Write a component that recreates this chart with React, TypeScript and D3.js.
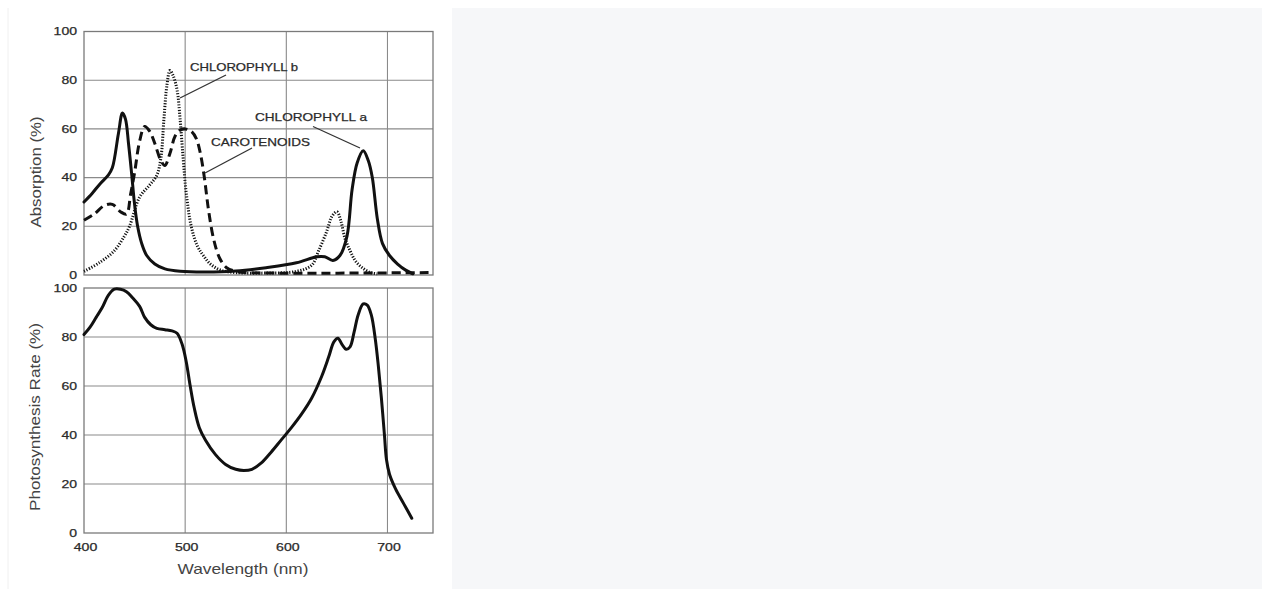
import * as d3 from "d3";

// absorption spectra (top panel)
const chlANm = [400, 408, 416, 424, 428, 434, 438, 441, 444, 447, 450, 453, 457, 462, 470, 480, 495, 520, 550, 580, 610, 630, 638, 646, 653, 660, 665, 670, 676, 681, 685, 690, 695, 702, 710, 718, 725];
const chlA = [30, 33.5, 37.5, 41, 44, 58, 66.5, 64, 54, 42, 29, 20, 13, 8, 4.5, 2.5, 1.5, 1.2, 1.6, 3, 5, 7.5, 7.5, 6, 8, 16, 35, 46, 51, 47, 40, 23, 13, 8, 4.5, 2, 0.5];

const chlBNm = [400, 415, 430, 440, 445, 455, 465, 472, 476, 479, 482, 485, 488, 492, 495, 498, 501, 506, 512, 518, 525, 535, 550, 580, 610, 625, 632, 640, 645, 650, 654, 658, 663, 668, 675, 683, 690];
const chlB = [1.5, 5, 10, 16, 20, 32, 37, 41, 48, 64, 78, 84, 82, 76, 64, 48, 34, 20, 12, 8, 4.5, 2, 1, 0.8, 1.5, 4, 10, 18, 24, 26, 22, 15, 10, 6, 3, 1, 0.5];

const carNm = [400, 410, 420, 428, 436, 442, 446, 450, 455, 460, 465, 470, 476, 480, 485, 490, 495, 500, 506, 511, 515, 519, 523, 528, 534, 541, 550, 560, 745];
const car = [22.5, 25, 28.5, 29, 26, 25, 33, 42, 55, 61, 59, 54, 47, 45, 50, 57, 59.5, 60, 59, 56, 50, 40, 27, 15, 7, 3, 1.5, 1, 1];

// action spectrum (bottom panel)
const photoNm = [400, 406, 412, 418, 424, 430, 436, 442, 448, 455, 460, 466, 472, 480, 487, 492, 497, 501, 505, 509, 514, 520, 530, 540, 550, 558, 566, 575, 585, 595, 605, 615, 625, 635, 642, 647, 651, 655, 659, 663, 667, 671, 676, 680, 684, 688, 691, 694, 697, 699, 702, 708, 716, 724];
const photo = [81, 84, 88, 92, 97, 99.5, 99.5, 98.5, 96, 92.5, 88, 85, 83.5, 83, 82.5, 81.5, 77, 70, 60, 51, 43, 38, 32, 28, 26, 25.5, 26, 28.5, 33, 38, 43, 48.5, 55, 64, 72, 78, 79.5, 77, 75, 76, 82, 89, 93.5, 93, 89, 79, 68, 55, 40, 30, 24, 18, 12, 6];

const xTicks = [400, 500, 600, 700];
const yTicks = [0, 20, 40, 60, 80, 100];

const W = 1266;
const H = 589;

const x = d3.scaleLinear().domain([400, 745]).range([84, 433]);
const yTop = d3.scaleLinear().domain([0, 100]).range([275, 31.5]);
const yBot = d3.scaleLinear().domain([0, 100]).range([533, 288]);

const zip = (a: number[], b: number[]) => a.map((d, i) => [d, b[i]] as [number, number]);

const font = "'Liberation Sans', Arial, sans-serif";

function Panel({ y, series }: { y: d3.ScaleLinear<number, number>; series: { pts: [number, number][]; dash: string | undefined; cap: string }[] }) {
  const line = d3
    .line<[number, number]>()
    .x((d) => x(d[0]))
    .y((d) => y(d[1]))
    .curve(d3.curveCatmullRom.alpha(0.5));
  const [x0, x1] = x.range();
  const [y0, y1] = y.range();
  return (
    <g>
      {yTicks.slice(1, -1).map((t) => (
        <line key={"h" + t} x1={x0} x2={x1} y1={y(t)} y2={y(t)} stroke="#8a8a8a" strokeWidth={1.1} />
      ))}
      {xTicks.slice(1).map((t) => (
        <line key={"v" + t} x1={x(t)} x2={x(t)} y1={y0} y2={y1} stroke="#8a8a8a" strokeWidth={1.1} />
      ))}
      <rect x={x0} y={y1} width={x1 - x0} height={y0 - y1} fill="none" stroke="#7a7a7a" strokeWidth={1.3} />
      {yTicks.map((t) => (
        <text
          key={"yl" + t}
          x={77}
          y={y(t)}
          dy="0.35em"
          textAnchor="end"
          fontFamily={font}
          fontSize={11}
          fill="#2a2a2a"
          stroke="#2a2a2a"
          strokeWidth={0.25}
          textLength={String(t).length * 7.8}
          lengthAdjust="spacingAndGlyphs"
        >
          {t}
        </text>
      ))}
      {series.map((s, i) => (
        <path
          key={i}
          d={line(s.pts) || ""}
          fill="none"
          stroke="#111"
          strokeWidth={3}
          strokeDasharray={s.dash}
          strokeLinecap={s.cap as any}
          strokeLinejoin="round"
        />
      ))}
    </g>
  );
}

export default function App() {
  return (
    <svg width={W} height={H} style={{ position: "absolute", left: 0, top: 0 }}>
      <rect width={W} height={H} fill="#fff" />
      <rect x={452} y={8} width={810} height={H - 8} fill="#f6f7f9" />
      <line x1={8} x2={8} y1={8} y2={H} stroke="#f0f0f0" />

      <Panel
        y={yTop}
        series={[
          { pts: zip(carNm, car), dash: "9,5", cap: "butt" },
          { pts: zip(chlBNm, chlB), dash: "1.2,1.6", cap: "butt" },
          { pts: zip(chlANm, chlA), dash: undefined, cap: "round" },
        ]}
      />
      <Panel y={yBot} series={[{ pts: zip(photoNm, photo), dash: undefined, cap: "round" }]} />

      {xTicks.map((t) => (
        <text
          key={"xl" + t}
          x={x(t) + 1.5}
          y={547}
          dy="0.35em"
          textAnchor="middle"
          fontFamily={font}
          fontSize={11}
          fill="#2a2a2a"
          stroke="#2a2a2a"
          strokeWidth={0.25}
          textLength={23.5}
          lengthAdjust="spacingAndGlyphs"
        >
          {t}
        </text>
      ))}

      {/* annotations */}
      <g fontFamily={font} fontSize={11} fill="#2a2a2a" stroke="#2a2a2a" strokeWidth={0.25}>
        <text x={190} y={71} textLength={108} lengthAdjust="spacingAndGlyphs">CHLOROPHYLL b</text>
        <text x={255} y={121} textLength={112} lengthAdjust="spacingAndGlyphs">CHLOROPHYLL a</text>
        <text x={211} y={146} textLength={99} lengthAdjust="spacingAndGlyphs">CAROTENOIDS</text>
      </g>
      <g stroke="#333" strokeWidth={1.3}>
        <line x1={226} y1={75} x2={180} y2={98} />
        <line x1={313} y1={126.5} x2={360} y2={148} />
        <line x1={252} y1={148} x2={205} y2={173} />
      </g>

      {/* axis titles */}
      <g fontFamily={font} fill="#444">
        <text transform="translate(41,172) rotate(-90)" textAnchor="middle" fontSize={14} textLength={111} lengthAdjust="spacingAndGlyphs">
          Absorption (%)
        </text>
        <text transform="translate(40,417) rotate(-90)" textAnchor="middle" fontSize={14} textLength={188} lengthAdjust="spacingAndGlyphs">
          Photosynthesis Rate (%)
        </text>
        <text x={243} y={574} textAnchor="middle" fontSize={15} textLength={131} lengthAdjust="spacingAndGlyphs">
          Wavelength (nm)
        </text>
      </g>
    </svg>
  );
}
